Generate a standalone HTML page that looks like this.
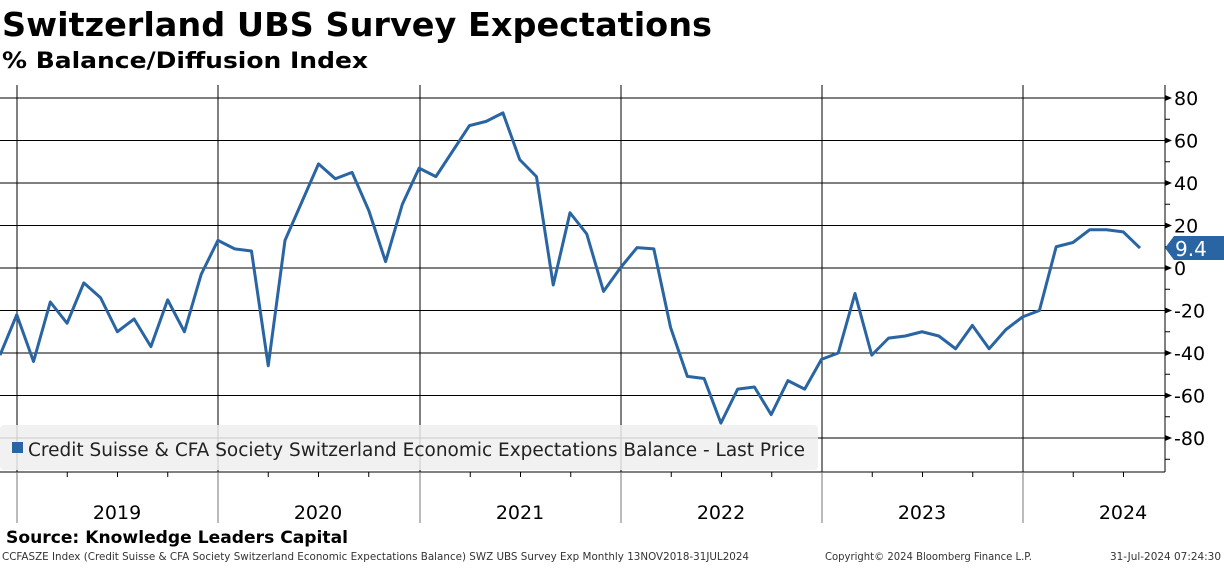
<!DOCTYPE html>
<html><head><meta charset="utf-8"><style>
body{margin:0;width:1224px;height:565px;background:#fff;overflow:hidden;font-family:"DejaVu Sans",Verdana,sans-serif}
</style></head><body>
<svg id="c" width="1224" height="565" xmlns="http://www.w3.org/2000/svg" font-family="DejaVu Sans,Verdana,sans-serif">
<text x="2" y="36" font-size="33" font-weight="bold" textLength="710" lengthAdjust="spacingAndGlyphs">Switzerland UBS Survey Expectations</text>
<text x="2" y="68" font-size="22" font-weight="bold" textLength="366" lengthAdjust="spacingAndGlyphs">% Balance/Diffusion Index</text>
<g id="grid"></g>
<g id="axis"></g>
<g id="legend">
<rect x="0" y="425" width="818" height="45" fill="#eeeeee" fill-opacity="0.85" rx="4"/>
<rect x="12" y="442" width="11" height="11" fill="#2a65a3"/>
<text x="28" y="456" font-size="18.5" fill="#222" textLength="777" lengthAdjust="spacingAndGlyphs">Credit Suisse &amp; CFA Society Switzerland Economic Expectations Balance - Last Price</text>
</g>
<g id="series"></g>
<text x="6" y="543" font-size="17" font-weight="bold" textLength="342" lengthAdjust="spacingAndGlyphs">Source: Knowledge Leaders Capital</text>
<text x="2" y="560" font-size="10.5" fill="#333" textLength="747" lengthAdjust="spacingAndGlyphs">CCFASZE Index (Credit Suisse &amp; CFA Society Switzerland Economic Expectations Balance) SWZ UBS Survey Exp  Monthly 13NOV2018-31JUL2024</text>
<text x="825" y="560" font-size="10.5" fill="#333" textLength="207" lengthAdjust="spacingAndGlyphs">Copyright© 2024 Bloomberg Finance L.P.</text>
<text x="1110" y="560" font-size="10.5" fill="#333" textLength="111" lengthAdjust="spacingAndGlyphs">31-Jul-2024 07:24:30</text>
</svg>
<script>
const values=[-41,-22,-44,-16,-26,-7,-14,-30,-24,-37,-15,-30,-3,13,9,8,-46,13,31,49,42,45,27,3,30,47,43,55,67,69,73,51,43,-8,26,16,-11,0,9.6,9,-28,-51,-52,-73,-57,-56,-69,-53,-57,-43,-40,-12,-41,-33,-32,-30,-32,-38,-27,-38,-29,-23,-20,10,12,18,18,17,9.4];
const yTicks=[80,60,40,20,0,-20,-40,-60,-80];
const years=["2019","2020","2021","2022","2023","2024"];
const yearX=[17,218,420,621,822,1023];
const NS="http://www.w3.org/2000/svg";
const top_=85,bot=472,right=1165;
const y=v=>268-v*2.125;
const x=i=>i*1140/68;
function mk(p,t,a){const e=document.createElementNS(NS,t);for(const k in a)e.setAttribute(k,a[k]);p.appendChild(e);return e;}
const g=document.getElementById('grid'),ax=document.getElementById('axis'),s=document.getElementById('series');
yTicks.forEach(t=>{
 const l=mk(g,'line',{x1:0,x2:right,y1:y(t),y2:y(t),stroke:'#000','stroke-width':1});
 
 
 mk(ax,'path',{d:`M${right} ${y(t)-3}L${right+7} ${y(t)}L${right} ${y(t)+3}Z`,fill:'#000'});
 if(y(t+10)>top_)mk(ax,'line',{x1:right,x2:right+5,y1:y(t+10),y2:y(t+10),stroke:'#000'});
 const tx=mk(ax,'text',{x:right+9,y:y(t)+7,'font-size':19,fill:'#000'});tx.textContent=t;
 
 
});
mk(ax,'line',{x1:right,x2:right+5,y1:y(-90),y2:y(-90),stroke:'#000'});
mk(ax,'line',{x1:right,x2:right,y1:top_,y2:bot,stroke:'#000'});
mk(ax,'line',{x1:0,x2:right,y1:bot,y2:bot,stroke:'#000'});
yearX.forEach((px,i)=>{
 const l=mk(g,'line',{x1:px,x2:px,y1:top_,y2:bot,stroke:'#000'});
 
 
 mk(ax,'line',{x1:px,x2:px,y1:bot,y2:523,stroke:'#777'});
 for(let q=1;q<4;q++){const qx=px+q*50.25;if(qx<right)mk(ax,'line',{x1:qx,x2:qx,y1:bot,y2:bot+5,stroke:'#000'});}
 const tx=mk(ax,'text',{x:px+100,y:519,'font-size':19,'text-anchor':'middle'});tx.textContent=years[i];
 
 
});
const line=mk(s,'polyline',{points:values.map((v,i)=>x(i)+','+y(v)).join(' '),fill:'none',stroke:'#2a65a3','stroke-width':3,'stroke-linejoin':'round'});


const last=values[values.length-1],ly=y(last);
const tag=mk(s,'path',{d:`M${right} ${ly}L${right+9} ${ly-12}H1224V${ly+12}H${right+9}Z`,fill:'#2a65a3'});


const tt=mk(s,'text',{x:right+10,y:ly+8,'font-size':20,fill:'#fff'});tt.textContent=last;


document.getElementById('c').appendChild(document.getElementById('legend'));
document.getElementById('c').appendChild(s);
</script>
</body></html>
